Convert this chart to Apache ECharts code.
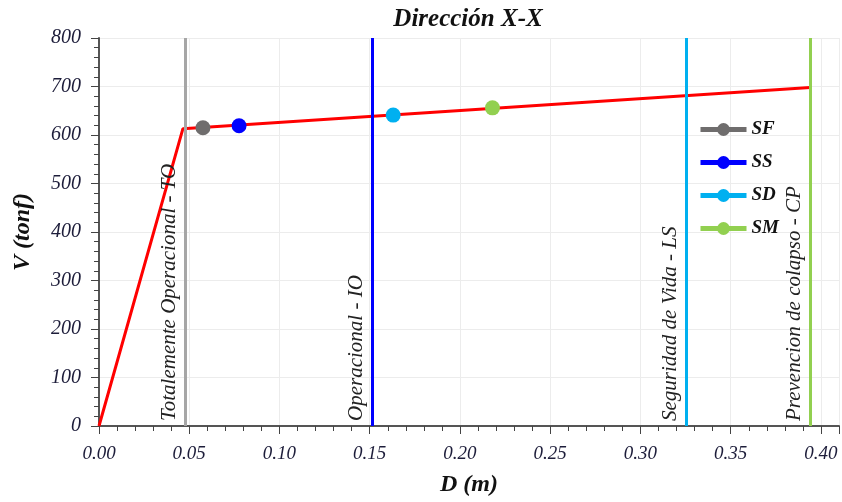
<!DOCTYPE html>
<html><head><meta charset="utf-8">
<script src="https://cdn.jsdelivr.net/npm/echarts@6/dist/echarts.min.js"></script>
<style>html,body{margin:0;padding:0;background:#fff}#c{width:842px;height:502px}</style>
</head><body><div id="c"></div>
<script>
var curveD = [0, 0.0465, 0.394];
var curveV = [0, 613, 698];
var pointNames = ['SF', 'SS', 'SD', 'SM'];
var pointD = [0.0576, 0.0776, 0.163, 0.218];
var pointV = [615, 619, 641, 656];
var pointColors = ['#6f6d6d', '#0000ff', '#00b0f0', '#92d050'];
var limitNames = ['Totalemente Operacional - TO', 'Operacional - IO', 'Seguridad de Vida - LS', 'Prevencion de colapso - CP'];
var limitD = [0.0476, 0.1512, 0.3252, 0.3939];
var limitColors = ['#a6a6a6', '#0000ff', '#00b0f0', '#92d050'];

var serif = 'Liberation Serif';
var chart = echarts.init(document.getElementById('c'), null, {renderer: 'canvas'});
var series = [];
series.push({
  type: 'line', name: 'curve', z: 2, symbol: 'none',
  data: curveD.map(function (d, i) { return [d, curveV[i]]; }),
  lineStyle: {color: '#ff0000', width: 3}, itemStyle: {color: '#ff0000'}
});
limitD.forEach(function (d, i) {
  series.push({
    type: 'line', name: 'lim' + i, z: 3, data: [], silent: true,
    markLine: {
      symbol: 'none', silent: true, animation: false,
      lineStyle: {color: limitColors[i], width: 3, type: 'solid'},
      label: {
        show: true, position: 'insideStartTop', distance: [5, 5],
        formatter: limitNames[i], fontFamily: serif, fontStyle: 'italic',
        fontSize: 21, color: '#222'
      },
      data: [[{coord: [d, 0]}, {coord: [d, 800]}]]
    }
  });
});
pointNames.forEach(function (n, i) {
  series.push({
    type: 'line', name: n, z: 5, symbol: 'circle', symbolSize: 15,
    data: [[pointD[i], pointV[i]]],
    itemStyle: {color: pointColors[i]},
    lineStyle: {color: pointColors[i], width: 5}
  });
});

chart.setOption({
  animation: false,
  title: {
    text: 'Dirección X-X', left: 463, top: 2, textAlign: 'center',
    textStyle: {fontFamily: serif, fontStyle: 'italic', fontWeight: 'bold', fontSize: 25, color: '#111'}
  },
  legend: {
    data: pointNames, orient: 'vertical', left: 693, top: 115,
    itemWidth: 46, itemHeight: 16, itemGap: 14,
    lineStyle: {width: 5},
    textStyle: {fontFamily: serif, fontStyle: 'italic', fontWeight: 'bold', fontSize: 19, color: '#111'}
  },
  grid: {left: 99, right: 3, top: 38, bottom: 70},
  xAxis: {
    type: 'value', min: 0, max: 0.41, interval: 0.05,
    name: 'D (m)', nameLocation: 'middle', nameGap: 47,
    nameTextStyle: {fontFamily: serif, fontStyle: 'italic', fontWeight: 'bold', fontSize: 24, color: '#111'},
    axisLine: {lineStyle: {color: '#555', width: 2}},
    axisTick: {show: true, length: 8, lineStyle: {color: '#444'}},
    minorTick: {show: true, splitNumber: 5, length: 5, lineStyle: {color: '#444'}},
    splitLine: {show: true, lineStyle: {color: '#ececec'}},
    axisLabel: {
      showMaxLabel: false, margin: 18, fontFamily: serif, fontStyle: 'italic', fontSize: 19, color: '#1d1d3a',
      formatter: function (v) { return v.toFixed(2); }
    }
  },
  yAxis: {
    type: 'value', min: 0, max: 800, interval: 100,
    name: 'V (tonf)', nameLocation: 'middle', nameGap: 64,
    nameTextStyle: {fontFamily: serif, fontStyle: 'italic', fontWeight: 'bold', fontSize: 24, color: '#111'},
    axisLine: {show: true, lineStyle: {color: '#555', width: 2}},
    axisTick: {show: true, length: 8, lineStyle: {color: '#444'}},
    minorTick: {show: true, splitNumber: 5, length: 5, lineStyle: {color: '#444'}},
    splitLine: {show: true, lineStyle: {color: '#ececec'}},
    axisLabel: {margin: 18, fontFamily: serif, fontStyle: 'italic', fontSize: 20, color: '#1d1d3a'}
  },
  series: series
});
</script></body></html>
